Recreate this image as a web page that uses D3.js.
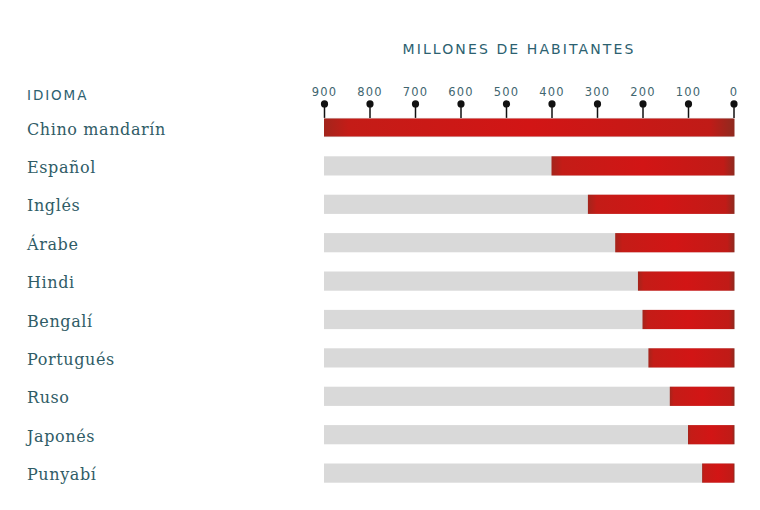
<!DOCTYPE html>
<html>
<head>
<meta charset="utf-8">
<script src="https://cdn.jsdelivr.net/npm/d3@7"></script>
<style>
  html, body { margin: 0; padding: 0; background: #ffffff; }
  svg { display: block; }
</style>
</head>
<body>
<svg id="chart" width="760" height="510"></svg>
<script>
const languages = ["Chino mandarín", "Español", "Inglés", "Árabe", "Hindi", "Bengalí", "Portugués", "Ruso", "Japonés", "Punyabí"];
const speakers = [900, 400, 320, 260, 210, 200, 187, 140, 100, 69];
const tickValues = [900, 800, 700, 600, 500, 400, 300, 200, 100, 0];
const axisTitle = "MILLONES DE HABITANTES";
const categoryTitle = "IDIOMA";

const svg = d3.select("#chart");
const titleColor = "#2c6170";
const labelColor = "#305c66";

const x = d3.scaleLinear().domain([900, 0]).range([324, 733.5]);
const y = d3.scaleBand().domain(languages).range([98.7, 501.9]).padding(0.5);

// gradient for red bars
const defs = svg.append("defs");
const grad = defs.append("linearGradient").attr("id", "redGrad")
  .attr("x1", "0%").attr("x2", "100%").attr("y1", "0%").attr("y2", "0%");
[["0%", "#a3251c"], ["6%", "#c41c17"], ["50%", "#d21515"], ["94%", "#c01b17"], ["100%", "#8f2a1f"]]
  .forEach(([o, c]) => grad.append("stop").attr("offset", o).attr("stop-color", c));

// titles
svg.append("text")
  .attr("x", 519).attr("y", 54)
  .attr("text-anchor", "middle")
  .attr("font-family", "'DejaVu Sans', sans-serif")
  .attr("font-size", 14)
  .attr("letter-spacing", "2.1px")
  .attr("fill", titleColor)
  .text(axisTitle);

svg.append("text")
  .attr("x", 27).attr("y", 99.5)
  .attr("font-family", "'DejaVu Sans', sans-serif")
  .attr("font-size", 13.5)
  .attr("letter-spacing", "1.9px")
  .attr("fill", titleColor)
  .text(categoryTitle);

// background bars
svg.append("g").selectAll("rect.bg")
  .data(languages)
  .join("rect")
  .attr("class", "bg")
  .attr("x", x(900))
  .attr("y", d => y(d))
  .attr("width", x(0) - x(900))
  .attr("height", y.bandwidth())
  .attr("fill", "#d9d9d9");

// value bars
svg.append("g").selectAll("rect.val")
  .data(languages.map((l, i) => ({ l, v: speakers[i] })))
  .join("rect")
  .attr("class", "val")
  .attr("x", d => x(d.v))
  .attr("y", d => y(d.l) + (d.l === languages[0] ? 0.6 : 0))
  .attr("width", d => x(0) - x(d.v) + 1)
  .attr("height", d => y.bandwidth() - (d.l === languages[0] ? 1.2 : 0))
  .attr("fill", "url(#redGrad)");

// category labels
svg.append("g").selectAll("text.lab")
  .data(languages)
  .join("text")
  .attr("class", "lab")
  .attr("x", 27)
  .attr("y", d => y(d) + y.bandwidth() / 2 + 7)
  .attr("font-family", "'DejaVu Serif', serif")
  .attr("font-size", 16)
  .attr("letter-spacing", "0.6px")
  .attr("fill", labelColor)
  .text(d => d);

// top axis with pin ticks
const axisY = y(languages[0]);
const tickLen = 14;
const axis = d3.axisTop(x).tickValues(tickValues).tickSize(tickLen).tickPadding(8).tickFormat(d3.format("d"));
const gAxis = svg.append("g").attr("transform", `translate(0,${axisY})`).call(axis);
gAxis.select(".domain").remove();
gAxis.selectAll(".tick line").attr("stroke", "#111").attr("stroke-width", 1.5);
gAxis.selectAll(".tick").append("circle").attr("cx", 0).attr("cy", -tickLen).attr("r", 3.6).attr("fill", "#111");
gAxis.selectAll(".tick text")
  .attr("font-family", "'DejaVu Sans', sans-serif")
  .attr("font-size", 11.5)
  .attr("letter-spacing", "1.2px")
  .attr("fill", "#3f6670");
</script>
</body>
</html>
